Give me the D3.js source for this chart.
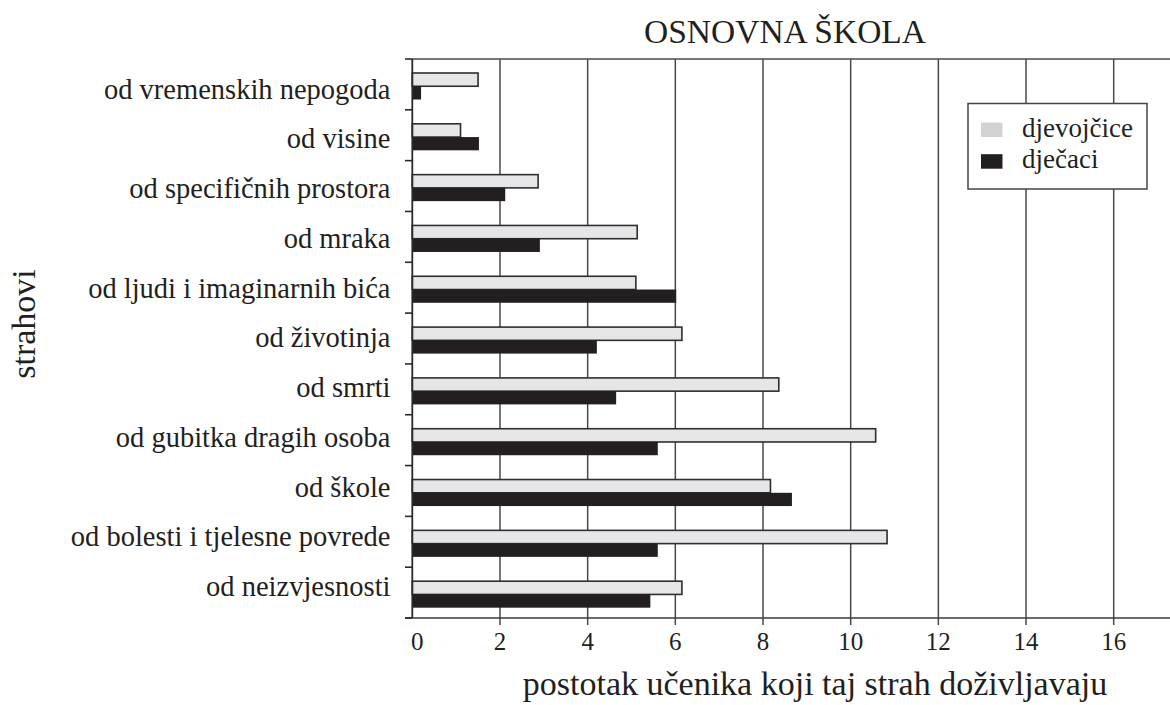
<!DOCTYPE html>
<html>
<head>
<meta charset="utf-8">
<script src="https://cdn.jsdelivr.net/npm/d3@7"></script>
<style>
  html, body { margin: 0; padding: 0; background: #fff; }
  svg { display: block; }
  text { font-family: "Liberation Serif", "Times New Roman", serif; fill: #231f20; }
</style>
</head>
<body>
<svg id="chart" width="1170" height="705"></svg>
<script>
// Fears reported by primary-school pupils (percent), by gender
const categories = [
  "od vremenskih nepogoda",
  "od visine",
  "od specifičnih prostora",
  "od mraka",
  "od ljudi i imaginarnih bića",
  "od životinja",
  "od smrti",
  "od gubitka dragih osoba",
  "od škole",
  "od bolesti i tjelesne povrede",
  "od neizvjesnosti"
];
const girls = [1.50, 1.10, 2.87, 5.13, 5.10, 6.15, 8.36, 10.57, 8.17, 10.83, 6.15];
const boys  = [0.20, 1.52, 2.12, 2.91, 6.02, 4.21, 4.65, 5.60, 8.66, 5.60, 5.43];
const seriesNames = ["djevojčice", "dječaci"];
const xTicks = [0, 2, 4, 6, 8, 10, 12, 14, 16];

const title = "OSNOVNA ŠKOLA";
const xTitle = "postotak učenika koji taj strah doživljavaju";
const yTitle = "strahovi";

const svg = d3.select("#chart");

const plotLeft = 412.3, plotTop = 59, plotBottom = 618, plotRight = 1170;

const x = d3.scaleLinear().domain([0, 16]).range([plotLeft, 1113.7]);
const y = d3.scaleBand().domain(categories).range([plotTop, plotBottom]).padding(0);
const inner = d3.scaleBand().domain(seriesNames).range([14, 40.5]).padding(0);
// category label baselines
const labelY = d3.scalePoint().domain(categories).range([98.5, 596]);

const fills = { "djevojčice": "#e6e6e8", "dječaci": "#231f20" };
const swatch = { "djevojčice": "#d3d3d5", "dječaci": "#231f20" };

// vertical gridlines with short ticks below the axis
svg.append("g")
  .selectAll("line")
  .data(xTicks.filter(d => d > 0))
  .join("line")
  .attr("x1", d => x(d)).attr("x2", d => x(d))
  .attr("y1", plotTop).attr("y2", plotBottom + 7)
  .attr("stroke", "#4a4a4a").attr("stroke-width", 1.5);

// top border
svg.append("line")
  .attr("x1", plotLeft).attr("x2", plotRight)
  .attr("y1", plotTop).attr("y2", plotTop)
  .attr("stroke", "#4a4a4a").attr("stroke-width", 1.5);

// bars
const rows = categories.map((c, i) => ({ c, vals: [
  { s: seriesNames[0], v: girls[i] },
  { s: seriesNames[1], v: boys[i] }
]}));

const g = svg.append("g")
  .selectAll("g")
  .data(rows)
  .join("g")
  .attr("transform", d => `translate(0,${y(d.c)})`);

g.selectAll("rect")
  .data(d => d.vals)
  .join("rect")
  .attr("x", x(0))
  .attr("y", d => inner(d.s))
  .attr("width", d => x(d.v) - x(0))
  .attr("height", inner.bandwidth())
  .attr("fill", d => fills[d.s])
  .attr("stroke", d => d.s === seriesNames[0] ? "#2e2e2e" : "none")
  .attr("stroke-width", 1.6);

// bottom axis
const xAxis = svg.append("g");
xAxis.append("line")
  .attr("x1", 405).attr("x2", plotRight)
  .attr("y1", plotBottom).attr("y2", plotBottom)
  .attr("stroke", "#3a3a3a").attr("stroke-width", 1.6);
xAxis.selectAll("text")
  .data(xTicks)
  .join("text")
  .attr("x", d => x(d) + (d === 0 ? 5 : 0))
  .attr("y", 650)
  .attr("text-anchor", "middle")
  .attr("font-size", 25)
  .text(d => d);

// left axis with ticks at category boundaries
const yAxis = svg.append("g");
yAxis.append("line")
  .attr("x1", plotLeft).attr("x2", plotLeft)
  .attr("y1", plotTop).attr("y2", plotBottom)
  .attr("stroke", "#2a2a2a").attr("stroke-width", 1.8);
const bounds = categories.map(c => y(c)).concat([plotBottom]);
yAxis.selectAll("line.tick")
  .data(bounds)
  .join("line")
  .attr("class", "tick")
  .attr("x1", 405).attr("x2", plotLeft)
  .attr("y1", d => d).attr("y2", d => d)
  .attr("stroke", "#2a2a2a").attr("stroke-width", 1.6);
yAxis.selectAll("text")
  .data(categories)
  .join("text")
  .attr("x", 390.5)
  .attr("y", d => labelY(d))
  .attr("text-anchor", "end")
  .attr("font-size", 28.5)
  .text(d => d);

// titles
svg.append("text")
  .attr("x", 785).attr("y", 43)
  .attr("text-anchor", "middle")
  .attr("font-size", 33.5)
  .text(title);

svg.append("text")
  .attr("x", 815).attr("y", 695)
  .attr("text-anchor", "middle")
  .attr("font-size", 34)
  .text(xTitle);

svg.append("text")
  .attr("transform", "translate(35,324) rotate(-90)")
  .attr("text-anchor", "middle")
  .attr("font-size", 34)
  .text(yTitle);

// legend
const legend = svg.append("g").attr("transform", "translate(968,103.5)");
legend.append("rect")
  .attr("width", 179).attr("height", 85.5)
  .attr("fill", "#fff").attr("stroke", "#444").attr("stroke-width", 1.5);
const items = legend.selectAll("g")
  .data(seriesNames)
  .join("g")
  .attr("transform", (d, i) => `translate(0,${19 + i * 31.7})`);
items.append("rect")
  .attr("x", 13).attr("y", 0)
  .attr("width", 21.5).attr("height", 14.5)
  .attr("fill", d => swatch[d]);
items.append("text")
  .attr("x", 54).attr("y", 14)
  .attr("font-size", 27)
  .text(d => d);
</script>
</body>
</html>
